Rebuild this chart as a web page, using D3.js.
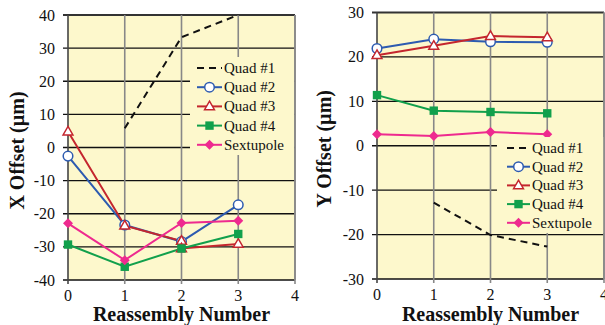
<!DOCTYPE html>
<html>

<head>
    <meta charset="utf-8">
    <title>Reassembly offsets</title>
    <script src="https://d3js.org/d3.v7.min.js"></script>
    <style>
        body {
            margin: 0;
            background: #fff;
        }

        svg text {
            font-family: "Liberation Serif", "Times New Roman", serif;
            fill: #111;
        }

        .tick-label {
            font-size: 16px;
        }

        .axis-title {
            font-size: 20px;
            font-weight: bold;
        }

        .legend text {
            font-size: 15px;
        }
    </style>
</head>

<body>
    <svg width="605" height="325"></svg>

    <script>
        // reassembly index (x axis)
        const reassembly = [0, 1, 2, 3];
        const xTicks = [0, 1, 2, 3, 4];
        const seriesNames = ["Quad #1", "Quad #2", "Quad #3", "Quad #4", "Sextupole"];

        // X offset (um), left panel
        const xQuad1 = [null, 5.8, 33.3, 40];
        const xQuad2 = [-2.6, -23.4, -28.4, -17.3];
        const xQuad3Pos = [0, 1, 2, 2, 3];          // Quad #3 has two readings at 2
        const xQuad3 = [4.8, -23.6, -28.2, -30.5, -29.1];
        const xQuad4 = [-29.3, -36.0, -30.5, -26.1];
        const xSext = [-22.9, -34.0, -22.8, -22.1];
        const xTickVals = [-40, -30, -20, -10, 0, 10, 20, 30, 40];

        // Y offset (um), right panel
        const yQuad1 = [null, -12.8, -20.1, -22.7];
        const yQuad2 = [21.9, 24.0, 23.4, 23.3];
        const yQuad3 = [20.4, 22.5, 24.7, 24.4];
        const yQuad4 = [11.4, 7.9, 7.6, 7.3];
        const ySext = [2.6, 2.2, 3.1, 2.6];
        const yTickVals = [-30, -20, -10, 0, 10, 20, 30];

        const colors = {
            "Quad #1": "#111",
            "Quad #2": "#2d5bb0",
            "Quad #3": "#c4262e",
            "Quad #4": "#11a04c",
            "Sextupole": "#ee2a8f"
        };
        const bg = "#fdf8cc";

        const svg = d3.select("svg");

        function zip(xs, ys) {
            return xs.map((x, i) => ({ x: x, v: ys[i] })).filter(d => d.v !== null);
        }

        function drawMarker(g, name, px, py) {
            const c = colors[name];
            if (name === "Quad #2") {
                g.append("circle").attr("cx", px).attr("cy", py).attr("r", 4.8)
                    .attr("fill", "#fff").attr("stroke", c).attr("stroke-width", 1.5);
            } else if (name === "Quad #3") {
                g.append("path").attr("transform", `translate(${px},${py + 0.5})`)
                    .attr("d", d3.symbol(d3.symbolTriangle, 42)())
                    .attr("fill", "#fff").attr("stroke", c).attr("stroke-width", 1.5);
            } else if (name === "Quad #4") {
                g.append("rect").attr("x", px - 4.2).attr("y", py - 4.2).attr("width", 8.4).attr("height", 8.4)
                    .attr("fill", c);
            } else if (name === "Sextupole") {
                g.append("path").attr("transform", `translate(${px},${py})`)
                    .attr("d", "M0,-5L5,0L0,5L-5,0Z").attr("fill", c);
            }
        }

        function panel(opt) {
            const x = d3.scaleLinear().domain([0, 4]).range([opt.left, opt.right]);
            const y = d3.scaleLinear().domain(opt.domain).range([opt.bottom, opt.top]);
            const g = svg.append("g");

            // plot background
            g.append("rect")
                .attr("x", opt.left).attr("y", opt.top)
                .attr("width", opt.right - opt.left).attr("height", opt.bottom - opt.top)
                .attr("fill", bg);

            // horizontal grid + y ticks
            g.selectAll(".hgrid").data(opt.ticks).enter().append("line")
                .attr("x1", opt.left - 5).attr("x2", opt.right)
                .attr("y1", d => y(d)).attr("y2", d => y(d))
                .attr("stroke", d => d === opt.domain[1] ? "#333" : "#111")
                .attr("stroke-width", d => d === opt.domain[1] ? 2 : 1.3);

            // vertical grid
            g.selectAll(".vgrid").data(xTicks).enter().append("line")
                .attr("x1", d => x(d)).attr("x2", d => x(d))
                .attr("y1", opt.top).attr("y2", opt.bottom + 4)
                .attr("stroke", d => d === 0 ? "#444" : "#888")
                .attr("stroke-width", 1.6);

            g.selectAll(".ylab").data(opt.ticks).enter().append("text")
                .attr("class", "tick-label")
                .attr("x", opt.left - 13).attr("y", d => y(d) + 5.5)
                .attr("text-anchor", "end")
                .text(d => d);

            g.selectAll(".xlab").data(xTicks).enter().append("text")
                .attr("class", "tick-label")
                .attr("x", d => x(d)).attr("y", opt.bottom + 21)
                .attr("text-anchor", "middle")
                .text(d => d);

            g.append("text").attr("class", "axis-title")
                .attr("x", (x(0) + x(4)) / 2).attr("y", 321)
                .attr("text-anchor", "middle")
                .text("Reassembly Number");

            g.append("text").attr("class", "axis-title")
                .attr("transform", `translate(${opt.titleX},${(opt.top + opt.bottom) / 2 + 3}) rotate(-90)`)
                .attr("text-anchor", "middle")
                .text(opt.title);

            // series
            const line = d3.line().x(d => x(d.x)).y(d => y(d.v));
            opt.series.forEach(s => {
                const pts = zip(s.xs, s.vs);
                const path = g.append("path").datum(pts)
                    .attr("d", line)
                    .attr("fill", "none")
                    .attr("stroke", colors[s.name])
                    .attr("stroke-width", 2);
                if (s.name === "Quad #1") path.attr("stroke-dasharray", "7,5");
            });
            opt.series.forEach(s => {
                zip(s.xs, s.vs).forEach(d => drawMarker(g, s.name, x(d.x), y(d.v)));
            });

            // legend
            const lg = g.append("g").attr("class", "legend");
            lg.append("rect")
                .attr("x", opt.legend.x).attr("y", opt.legend.y)
                .attr("width", opt.legend.w).attr("height", opt.legend.h)
                .attr("fill", bg);
            seriesNames.forEach((name, i) => {
                const ly = opt.legend.y + opt.legend.first + i * opt.legend.step;
                const l = lg.append("line")
                    .attr("x1", opt.legend.lx1).attr("x2", opt.legend.lx2)
                    .attr("y1", ly).attr("y2", ly)
                    .attr("stroke", colors[name]).attr("stroke-width", 2);
                if (name === "Quad #1") l.attr("stroke-dasharray", "7,5");
                drawMarker(lg, name, (opt.legend.lx1 + opt.legend.lx2) / 2, ly);
                lg.append("text")
                    .attr("x", opt.legend.lx2 + 2).attr("y", ly + 5)
                    .text(name);
            });

            // right border
            g.append("line")
                .attr("x1", opt.right).attr("x2", opt.right)
                .attr("y1", opt.top).attr("y2", opt.bottom)
                .attr("stroke", "#888").attr("stroke-width", 1.6);
        }

        panel({
            left: 68, right: 295, top: 15, bottom: 280,
            domain: [-40, 40], ticks: xTickVals,
            title: "X Offset (\u00b5m)", titleX: 24,
            series: [
                { name: "Quad #1", xs: reassembly, vs: xQuad1 },
                { name: "Quad #2", xs: reassembly, vs: xQuad2 },
                { name: "Quad #3", xs: xQuad3Pos, vs: xQuad3 },
                { name: "Quad #4", xs: reassembly, vs: xQuad4 },
                { name: "Sextupole", xs: reassembly, vs: xSext }
            ],
            legend: { x: 190, y: 57, w: 104, h: 98, first: 11, step: 19.2, lx1: 197, lx2: 222 }
        });

        panel({
            left: 377, right: 604, top: 12.5, bottom: 279,
            domain: [-30, 30], ticks: yTickVals,
            title: "Y Offset (\u00b5m)", titleX: 331,
            series: [
                { name: "Quad #1", xs: reassembly, vs: yQuad1 },
                { name: "Quad #2", xs: reassembly, vs: yQuad2 },
                { name: "Quad #3", xs: reassembly, vs: yQuad3 },
                { name: "Quad #4", xs: reassembly, vs: yQuad4 },
                { name: "Sextupole", xs: reassembly, vs: ySext }
            ],
            legend: { x: 497, y: 137, w: 107, h: 96, first: 11, step: 18.7, lx1: 507, lx2: 530 }
        });
    </script>
</body>

</html>
